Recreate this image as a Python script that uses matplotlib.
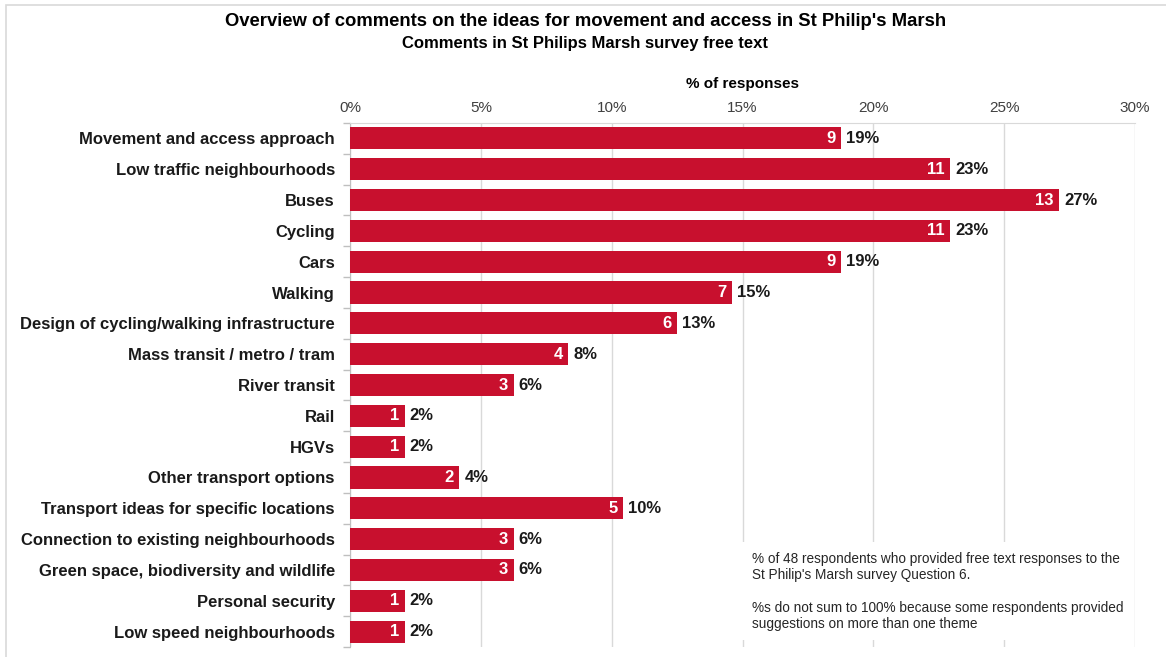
import matplotlib.pyplot as plt
from matplotlib.patches import Rectangle

plt.rcParams["font.family"] = ["Liberation Sans", "DejaVu Sans"]

RESPONDENTS = 48

THEMES = [
    "Movement and access approach",
    "Low traffic neighbourhoods",
    "Buses",
    "Cycling",
    "Cars",
    "Walking",
    "Design of cycling/walking infrastructure",
    "Mass transit / metro / tram",
    "River transit",
    "Rail",
    "HGVs",
    "Other transport options",
    "Transport ideas for specific locations",
    "Connection to existing neighbourhoods",
    "Green space, biodiversity and wildlife",
    "Personal security",
    "Low speed neighbourhoods",
]

COUNTS = [9, 11, 13, 11, 9, 7, 6, 4, 3, 1, 1, 2, 5, 3, 3, 1, 1]

X_TICKS = [0, 5, 10, 15, 20, 25, 30]

BAR_COLOR = "#C8102E"
GRID_COLOR = "#D9D9D9"


def main():
    fig = plt.figure(figsize=(11.66, 6.57), dpi=100)

    # light frame round the whole chart
    fig.patches.append(Rectangle((0.005, -0.01), 1.2, 1.002, transform=fig.transFigure,
                                 fill=False, edgecolor="#D9D9D9", linewidth=1.2))

    ax = fig.add_axes([0.3002, 0.0152, 0.6732, 0.7976])

    pcts = [c / RESPONDENTS * 100 for c in COUNTS]
    y = list(range(len(THEMES)))

    ax.barh(y, pcts, height=0.72, color=BAR_COLOR, zorder=3)

    for yi, c, p in zip(y, COUNTS, pcts):
        ax.text(p - 0.2, yi, str(c), ha="right", va="center", color="white",
                fontsize=12, fontweight="bold", zorder=4)
        # round half up, so 12.5 shows as 13%
        ax.text(p + 0.2, yi, f"{int(p + 0.5)}%", ha="left", va="center", color="#1a1a1a",
                fontsize=12, fontweight="bold", zorder=4)

    ax.set_xlim(0, 30)
    ax.set_ylim(len(THEMES) - 0.5, -0.5)
    ax.set_xticks(X_TICKS)
    ax.set_xticklabels([f"{t}%" for t in X_TICKS], fontsize=11, color="#404040")
    ax.xaxis.tick_top()
    ax.tick_params(axis="x", length=0, pad=6)
    ax.xaxis.set_label_position("top")
    ax.set_xlabel("% of responses", fontsize=11, fontweight="bold", labelpad=9)

    ax.set_yticks(y)
    ax.set_yticklabels(THEMES, fontsize=12, fontweight="bold", color="#1a1a1a")
    ax.set_yticks([i + 0.5 for i in range(-1, len(THEMES))], minor=True)
    ax.tick_params(axis="y", which="major", length=0, pad=11)
    ax.tick_params(axis="y", which="minor", length=5, color="#BFBFBF", width=1)

    ax.grid(axis="x", color=GRID_COLOR, linewidth=1, zorder=0)
    ax.spines["right"].set_visible(False)
    ax.spines["bottom"].set_visible(False)
    ax.spines["top"].set_color(GRID_COLOR)
    ax.spines["left"].set_color("#BFBFBF")

    ax.text(0.512, 0.031,
            "% of 48 respondents who provided free text responses to the\n"
            "St Philip's Marsh survey Question 6.\n\n"
            "%s do not sum to 100% because some respondents provided\n"
            "suggestions on more than one theme",
            transform=ax.transAxes, fontsize=9.8, color="#262626", va="bottom", ha="left",
            linespacing=1.2, zorder=5,
            bbox=dict(facecolor="white", edgecolor="none", pad=7))

    fig.text(0.502, 0.968, "Overview of comments on the ideas for movement and access in St Philip's Marsh",
             ha="center", va="center", fontsize=13.3, fontweight="bold")
    fig.text(0.502, 0.934, "Comments in St Philips Marsh survey free text",
             ha="center", va="center", fontsize=12, fontweight="bold")

    fig.savefig("out.png", dpi=100)
    plt.close(fig)


if __name__ == "__main__":
    main()
